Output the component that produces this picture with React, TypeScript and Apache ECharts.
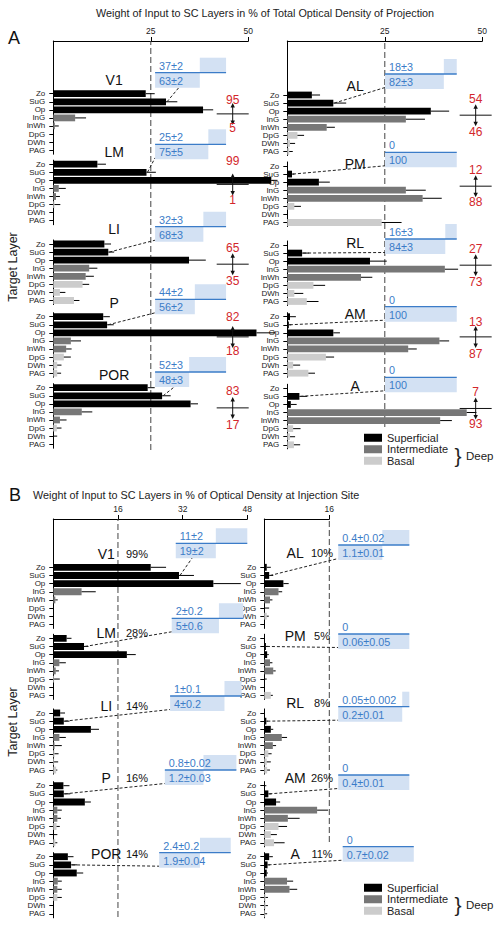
import React, { useEffect, useRef } from 'react';
import * as echarts from 'echarts';

const FONT = '"Liberation Sans", Arial, Helvetica, sans-serif';

// ---------------- data ----------------
const LAYERS = ['Zo', 'SuG', 'Op', 'InG', 'InWh', 'DpG', 'DWh', 'PAG'];
const LAYER_CLASS = ['Superficial', 'Superficial', 'Superficial', 'Intermediate', 'Intermediate', 'Basal', 'Basal', 'Basal'];
const CLASSES = ['Superficial', 'Intermediate', 'Basal'];

const TITLE_A = 'Weight of Input to SC Layers in % of Total Optical Density of Projection';
const TITLE_B = 'Weight of Input to SC Layers in % of Optical Density at Injection Site';
const Y_NAME = 'Target Layer';

const A_TICKS = [25, 50];
const B_LEFT_TICKS = [16, 32, 48];
const B_RIGHT_TICKS = [16];

const A_LEFT_AREAS = ['V1', 'LM', 'LI', 'P', 'POR'];
const A_LEFT_MEAN = [
  [23.7, 28.9, 38.4, 5.6, 0.4, 0, 0, 0],
  [11.3, 23.9, 55.9, 1.4, 0.7, 0.3, 0, 0],
  [13.1, 14.1, 34.8, 9.2, 8.3, 7.5, 1.7, 5.3],
  [12.8, 13.8, 52.1, 4.5, 3.3, 2.7, 1.0, 1.0],
  [24.2, 27.9, 35.2, 7.3, 1.7, 0.9, 0, 0],
];
const A_LEFT_ERR = [
  [2.3, 2.9, 2.6, 2.8, 1.0, 0, 0, 0],
  [2.2, 2.4, 1.6, 1.8, 1.0, 1.5, 0, 0],
  [1.7, 1.5, 4.3, 2.1, 2.1, 1.7, 1.4, 1.4],
  [1.7, 1.7, 4.8, 2.6, 1.4, 1.8, 1.1, 1.0],
  [1.8, 2.2, 1.9, 2.7, 1.7, 1.2, 1.0, 0],
];
const A_LEFT_SUPERFICIAL = [95, 99, 65, 82, 83];
const A_LEFT_DEEP = [5, 1, 35, 18, 17];
const A_LEFT_BOX_UPPER = ['37±2', '25±2', '32±3', '44±2', '52±3'];
const A_LEFT_BOX_LOWER = ['63±2', '75±5', '68±3', '56±2', '48±3'];
const A_LEFT_BOX_SPLIT = [63, 75, 68, 56, 48];

const A_RIGHT_AREAS = ['AL', 'PM', 'RL', 'AM', 'A'];
const A_RIGHT_MEAN = [
  [6.3, 11.8, 36.8, 30.4, 10.1, 2.6, 0.7, 0.5],
  [0, 1.2, 8.1, 30.4, 34.7, 1.8, 0, 24.2],
  [0, 3.8, 21.2, 40.4, 18.9, 6.7, 1.8, 5.0],
  [0.7, 0.4, 11.8, 39.0, 31.0, 9.9, 1.5, 5.4],
  [0, 3.1, 0.9, 46.0, 39.2, 1.5, 0.7, 1.7],
];
const A_RIGHT_ERR = [
  [2.1, 3.3, 4.7, 4.9, 2.1, 1.7, 1.3, 0.9],
  [0, 0.6, 2.8, 5.1, 4.9, 1.7, 0, 5.1],
  [0, 1.8, 4.3, 3.4, 2.9, 3.0, 2.3, 3.0],
  [1.5, 0.6, 1.7, 2.5, 2.2, 2.1, 1.8, 1.7],
  [0, 2.0, 1.5, 2.5, 3.0, 1.9, 1.3, 1.6],
];
const A_RIGHT_SUPERFICIAL = [54, 12, 27, 13, 7];
const A_RIGHT_DEEP = [46, 88, 73, 87, 93];
const A_RIGHT_BOX_UPPER = ['18±3', '0', '16±3', '0', '0'];
const A_RIGHT_BOX_LOWER = ['82±3', '100', '84±3', '100', '100'];
const A_RIGHT_BOX_SPLIT = [82, 100, 84, 100, 100];

const B_LEFT_MEAN = [
  [24.1, 31.1, 39.6, 7.0, 0.5, 0, 0, 0],
  [3.3, 7.6, 18.2, 1.5, 0.6, 0.2, 0, 0],
  [1.7, 2.6, 9.3, 1.5, 0.3, 0.3, 0.2, 0.7],
  [2.5, 2.6, 7.8, 1.0, 1.0, 0.8, 0, 0.5],
  [3.6, 4.4, 5.8, 1.1, 1.0, 1.0, 0, 0],
];
const B_LEFT_ERR = [
  [3.8, 3.7, 6.8, 3.5, 0.6, 0, 0, 0],
  [1.2, 1.1, 2.2, 1.6, 0.8, 1.4, 0, 0],
  [1.2, 1.4, 2.0, 1.6, 1.8, 1.0, 1.0, 0.3],
  [1.5, 1.6, 1.5, 1.1, 0.9, 0.8, 1.0, 0.5],
  [1.4, 1.5, 1.6, 1.0, 1.1, 1.1, 0, 0],
];
const B_LEFT_SHARE = ['99%', '28%', '14%', '16%', '14%'];
const B_LEFT_BOX_UPPER = ['11±2', '2±0.2', '1±0.1', '0.8±0.02', '2.4±0.2'];
const B_LEFT_BOX_LOWER = ['19±2', '5±0.6', '4±0.2', '1.2±0.03', '1.9±0.04'];
const B_LEFT_BOX_SPLIT = [56, 66, 76, 54, 57];

const B_RIGHT_MEAN = [
  [0.6, 1.2, 4.7, 3.5, 1.4, 0, 0.6, 0],
  [0, 0.4, 0.7, 1.4, 2.2, 0, 0, 1.6],
  [0, 0.5, 1.6, 4.3, 2.1, 1.0, 0.6, 0.7],
  [0, 1.0, 2.9, 13.0, 5.8, 3.5, 1.6, 2.4],
  [1.2, 0.8, 0.6, 5.6, 6.2, 0.3, 0.3, 0.2],
];
const B_RIGHT_ERR = [
  [1.0, 1.0, 1.3, 0.9, 0.6, 1.2, 0.5, 0],
  [0, 0.5, 0.4, 0.6, 0.6, 0.6, 0, 0.5],
  [0, 0.4, 0.6, 1.3, 0.8, 0.8, 1.0, 0.7],
  [0.5, 0.8, 1.0, 2.7, 2.9, 2.1, 1.5, 2.6],
  [0.9, 0.6, 0.3, 1.5, 1.9, 0.6, 0.6, 0.5],
];
const B_RIGHT_SHARE = ['10%', '5%', '8%', '26%', '11%'];
const B_RIGHT_BOX_UPPER = ['0.4±0.02', '0', '0.05±0.002', '0', '0'];
const B_RIGHT_BOX_LOWER = ['1.1±0.01', '0.06±0.05', '0.2±0.01', '0.4±0.01', '0.7±0.02'];
const B_RIGHT_BOX_SPLIT = [62, 100, 90, 100, 100];

// ---------------- styles / layout ----------------
const CLASS_COLORS = ['#000000', '#777777', '#cccccc'];
const BLUE = '#3b7cc8';
const BLUE_FILL = '#d3e1f3';
const RED = '#d3262b';

type PanelCfg = {
  x0: number; width: number; max: number; ticks: number[]; dash: number;
  axisTop: number; dashBottom: number; rowH: number; zo: number[];
  areas: string[]; mean: number[][]; err: number[][];
  labelX: number; labelDy: number[];
  share?: string[]; shareX?: number;
  red?: { sup: number[]; deep: number[]; x: number; upDy: number[]; downDy: number[] };
  box: { upper: string[]; lower: string[]; split: number[]; start: number[]; width: number; lineDy: number[]; half: number };
};

const PANELS: PanelCfg[] = [
  {
    x0: 53.3, width: 195, max: 50, ticks: A_TICKS, dash: 25, axisTop: 41, dashBottom: 450, rowH: 8.07,
    zo: [93.7, 164.2, 244, 316.7, 387.7],
    areas: A_LEFT_AREAS, mean: A_LEFT_MEAN, err: A_LEFT_ERR,
    labelX: 15.6, labelDy: [-14, -12.5, -15, -13.4, -12.7],
    red: { sup: A_LEFT_SUPERFICIAL, deep: A_LEFT_DEEP, x: 46.0, upDy: [-14, -23, -16, -20, -17], downDy: [14, 16, 17, 14, 17] },
    box: { upper: A_LEFT_BOX_UPPER, lower: A_LEFT_BOX_LOWER, split: A_LEFT_BOX_SPLIT, start: [26.1, 26.1, 26.1, 26.1, 26.1], width: 18.2, lineDy: [-21, -19.9, -17.3, -17.4, -15.7], half: 15 },
  },
  {
    x0: 287.3, width: 195, max: 50, ticks: A_TICKS, dash: 25, axisTop: 41, dashBottom: 427, rowH: 8.07,
    zo: [95, 166, 245, 316.7, 388.3],
    areas: A_RIGHT_AREAS, mean: A_RIGHT_MEAN, err: A_RIGHT_ERR,
    labelX: 17.4, labelDy: [-9, -2, -2.3, -2.7, -2.3],
    red: { sup: A_RIGHT_SUPERFICIAL, deep: A_RIGHT_DEEP, x: 48.3, upDy: [-16, -16, -16, -15, -16], downDy: [17, 16, 17, 17, 16] },
    box: { upper: A_RIGHT_BOX_UPPER, lower: A_RIGHT_BOX_LOWER, split: A_RIGHT_BOX_SPLIT, start: [25.05, 25.05, 25.05, 25.05, 25.05], width: 18.4, lineDy: [-21, -13.7, -6, -10, -11], half: 15 },
  },
  {
    x0: 53.3, width: 194, max: 48, ticks: B_LEFT_TICKS, dash: 16, axisTop: 519, dashBottom: 917, rowH: 8.15,
    zo: [567.3, 638.3, 713, 785.7, 856.7],
    areas: A_LEFT_AREAS, mean: B_LEFT_MEAN, err: B_LEFT_ERR,
    labelX: 13.1, labelDy: [-13.3, -5.6, -7, -7.4, -2.7],
    share: B_LEFT_SHARE, shareX: 20.7,
    box: { upper: B_LEFT_BOX_UPPER, lower: B_LEFT_BOX_LOWER, split: B_LEFT_BOX_SPLIT, start: [30.3, 29.3, 28.9, 27.6, 26.2], width: 17.7, lineDy: [-24, -20, -17, -15.7, -4], half: 15 },
  },
  {
    x0: 264.3, width: 65, max: 16, ticks: B_RIGHT_TICKS, dash: 16, axisTop: 519, dashBottom: 842, rowH: 8.15,
    zo: [567.3, 638.3, 713, 785.7, 856.7],
    areas: A_RIGHT_AREAS, mean: B_RIGHT_MEAN, err: B_RIGHT_ERR,
    labelX: 7.6, labelDy: [-14.6, -2.3, -9.7, -7.4, -2.7],
    share: B_RIGHT_SHARE, shareX: 14.2,
    box: { upper: B_RIGHT_BOX_UPPER, lower: B_RIGHT_BOX_LOWER, split: B_RIGHT_BOX_SPLIT, start: [18.2, 18.2, 18.2, 18.2, 19.3], width: 17.5, lineDy: [-22.3, -4.3, -6.3, -10.7, -10], half: 15 },
  },
];

function txt(text: string, x: number, y: number, fill: string, fontSize: number, align: string = 'center') {
  return {
    type: 'text',
    style: {
      text, x, y, fill, fontSize, fontFamily: FONT,
      align, verticalAlign: 'middle', textAlign: align, textVerticalAlign: 'middle',
    },
  };
}

function errRender(params: any, api: any) {
  const m = api.value(0);
  const idx = api.value(1);
  const e = api.value(2);
  if (!e) return null;
  const p0 = api.coord([m, idx]);
  const p1 = api.coord([m + e, idx]);
  return {
    type: 'line',
    shape: { x1: p0[0], y1: p0[1], x2: p1[0], y2: p1[1] },
    style: { stroke: '#000', lineWidth: 1 },
  };
}

function annotRender(cfg: PanelCfg, g: number) {
  return (params: any, api: any) => {
    const X = (u: number) => api.coord([u, 0])[0];
    const zoY = api.coord([0, 0])[1];
    const row = api.coord([0, 1])[1] - zoY;
    const children: any[] = [];
    const b = cfg.box;
    const lineY = zoY + b.lineDy[g];
    const xs = X(b.start[g]);
    const xe = X(b.start[g] + b.width);
    const xm = xs + ((xe - xs) * b.split[g]) / 100;
    // connector from SuG bar end to the box
    const sx = X(cfg.mean[g][1]);
    const sy = zoY + row;
    const ex = sx > xs - 5 ? sx + 14 : xs;
    const ey = lineY + b.half - 1.5;
    children.push({ type: 'line', shape: { x1: sx + 1, y1: sy, x2: ex, y2: ey }, style: { stroke: '#222', lineWidth: 1, lineDash: [3, 2] } });
    if (xe - xm > 0.5) {
      children.push({ type: 'rect', shape: { x: xm, y: lineY - b.half, width: xe - xm, height: b.half }, style: { fill: BLUE_FILL } });
    }
    children.push({ type: 'rect', shape: { x: xs, y: lineY, width: xm - xs, height: b.half }, style: { fill: BLUE_FILL } });
    children.push({ type: 'line', shape: { x1: xs, y1: lineY, x2: xe, y2: lineY }, style: { stroke: BLUE, lineWidth: 1.3 } });
    children.push(txt(b.upper[g], xs + 4, lineY - b.half / 2 + 0.5, BLUE, 10.8, 'left'));
    children.push(txt(b.lower[g], xs + 4, lineY + b.half / 2 + 0.5, BLUE, 10.8, 'left'));
    // area label
    children.push(txt(cfg.areas[g], X(cfg.labelX), zoY + cfg.labelDy[g], '#111', 14));
    if (cfg.share && cfg.shareX !== undefined) {
      children.push(txt(cfg.share[g], X(cfg.shareX), zoY + cfg.labelDy[g], '#111', 11));
    }
    if (cfg.red) {
      const r = cfg.red;
      const xc = X(r.x);
      const cy = zoY + 2.5 * row;
      children.push({ type: 'line', shape: { x1: xc - 16, y1: cy, x2: xc + 16, y2: cy }, style: { stroke: '#111', lineWidth: 1 } });
      children.push({ type: 'line', shape: { x1: xc, y1: cy - 8, x2: xc, y2: cy + 8 }, style: { stroke: '#111', lineWidth: 1 } });
      children.push({ type: 'polygon', shape: { points: [[xc, cy - 11], [xc - 2.2, cy - 6.5], [xc + 2.2, cy - 6.5]] }, style: { fill: '#111' } });
      children.push({ type: 'polygon', shape: { points: [[xc, cy + 11], [xc - 2.2, cy + 6.5], [xc + 2.2, cy + 6.5]] }, style: { fill: '#111' } });
      children.push(txt(String(r.sup[g]), xc, cy + r.upDy[g], RED, 12));
      children.push(txt(String(r.deep[g]), xc, cy + r.downDy[g], RED, 12));
    }
    return { type: 'group', children };
  };
}

function buildOption() {
  const grid: any[] = [];
  const xAxis: any[] = [];
  const yAxis: any[] = [];
  const series: any[] = [];
  const axisLineStyle = { color: '#000', width: 1 };
  const addGrid = (g: any, xa: any, ya: any) => {
    const idx = grid.length;
    grid.push({ ...g, containLabel: false, outerBoundsMode: 'none' });
    xAxis.push({ ...xa, gridIndex: idx });
    yAxis.push({ ...ya, gridIndex: idx });
    return idx;
  };

  PANELS.forEach((cfg) => {
    const baseX = { type: 'value', min: 0, max: cfg.max };
    const firstTop = cfg.zo[0] - cfg.rowH / 2;
    // frame: top axis + connecting y axis line
    addGrid(
      { left: cfg.x0, width: cfg.width, top: cfg.axisTop, height: firstTop - cfg.axisTop },
      {
        ...baseX, position: 'top', interval: cfg.ticks[0],
        axisLine: { show: true, onZero: false, lineStyle: axisLineStyle },
        axisTick: { show: true, customValues: cfg.ticks, length: 4, lineStyle: axisLineStyle },
        axisLabel: { show: true, customValues: cfg.ticks, fontSize: 8.5, color: '#222', margin: 6, fontFamily: FONT, formatter: (v: number) => (v === 0 ? '' : String(v)) },
        splitLine: { show: false },
      },
      { type: 'value', min: 0, max: 1, axisLine: { show: true, onZero: false, lineStyle: axisLineStyle }, axisTick: { show: false }, axisLabel: { show: false }, splitLine: { show: false } },
    );
    // dashed reference line
    const di = addGrid(
      { left: cfg.x0, width: cfg.width, top: cfg.axisTop, height: cfg.dashBottom - cfg.axisTop },
      { ...baseX, show: false },
      { type: 'value', min: 0, max: 1, show: false },
    );
    series.push({
      type: 'line', xAxisIndex: di, yAxisIndex: di, data: [[cfg.dash, 0], [cfg.dash, 1]],
      symbol: 'none', silent: true, z: 1,
      lineStyle: { color: '#444', width: 1, type: [6, 3] },
    });
    // area groups
    cfg.areas.forEach((area, g) => {
      const gi = addGrid(
        { left: cfg.x0, width: cfg.width, top: cfg.zo[g] - cfg.rowH / 2, height: cfg.rowH * 8 },
        { ...baseX, show: false },
        {
          type: 'category', data: LAYERS, inverse: true,
          axisLine: { show: true, lineStyle: axisLineStyle },
          axisTick: { show: true, alignWithLabel: true, interval: 0, length: 4, lineStyle: axisLineStyle },
          axisLabel: { show: true, interval: 0, fontSize: 8, lineHeight: 7.5, color: '#222', margin: 8, fontFamily: FONT },
          splitLine: { show: false },
        },
      );
      CLASSES.forEach((c, ci) => {
        series.push({
          type: 'bar', name: c, xAxisIndex: gi, yAxisIndex: gi,
          barWidth: cfg.rowH - 1.3, barGap: '-100%', clip: false, silent: true, z: 2,
          itemStyle: { color: CLASS_COLORS[ci] },
          data: LAYERS.map((_, i) => (LAYER_CLASS[i] === c ? cfg.mean[g][i] : '-')),
        });
      });
      series.push({
        type: 'custom', xAxisIndex: gi, yAxisIndex: gi, clip: false, silent: true, z: 3,
        encode: { x: 0, y: 1 },
        data: cfg.mean[g].map((m, i) => [m, i, cfg.err[g][i]]),
        renderItem: errRender,
      });
      series.push({
        type: 'custom', xAxisIndex: gi, yAxisIndex: gi, clip: false, silent: true, z: 4,
        encode: { x: 0, y: 1 },
        data: [[0, 0]],
        renderItem: annotRender(cfg, g),
      });
    });
  });

  const legendBase = {
    data: CLASSES, orient: 'vertical', left: 364, itemWidth: 18, itemHeight: 8, itemGap: 0,
    icon: 'rect', selectedMode: false, padding: 0,
    textStyle: { fontSize: 11, color: '#222', fontFamily: FONT, lineHeight: 11.5 },
  };

  const graphic: any[] = [
    { type: 'text', x: 14, y: 37.5, style: { text: 'A', fontSize: 18, fontFamily: FONT, fill: '#111', align: 'center', verticalAlign: 'middle', textAlign: 'center', textVerticalAlign: 'middle' } },
    { type: 'text', x: 15, y: 495, style: { text: 'B', fontSize: 18, fontFamily: FONT, fill: '#111', align: 'center', verticalAlign: 'middle', textAlign: 'center', textVerticalAlign: 'middle' } },
    { type: 'text', x: 13, y: 267, rotation: Math.PI / 2, style: { text: Y_NAME, fontSize: 12.5, fontFamily: FONT, fill: '#222', align: 'center', verticalAlign: 'middle', textAlign: 'center', textVerticalAlign: 'middle' } },
    { type: 'text', x: 13, y: 722, rotation: Math.PI / 2, style: { text: Y_NAME, fontSize: 12.5, fontFamily: FONT, fill: '#222', align: 'center', verticalAlign: 'middle', textAlign: 'center', textVerticalAlign: 'middle' } },
  ];
  [455, 904].forEach((y) => {
    graphic.push({ type: 'text', x: 458, y, style: { text: '}', fontSize: 21, fontFamily: FONT, fill: '#222', align: 'center', verticalAlign: 'middle', textAlign: 'center', textVerticalAlign: 'middle' } });
    graphic.push({ type: 'text', x: 466, y: y + 0.5, style: { text: 'Deep', fontSize: 11.5, fontFamily: FONT, fill: '#222', align: 'left', verticalAlign: 'middle', textAlign: 'left', textVerticalAlign: 'middle' } });
  });

  return {
    animation: false,
    backgroundColor: '#ffffff',
    textStyle: { fontFamily: FONT },
    title: [
      { text: TITLE_A, left: 96, top: 7, padding: 0, textStyle: { fontSize: 10.8, fontWeight: 'normal', color: '#222', fontFamily: FONT } },
      { text: TITLE_B, left: 33, top: 489, padding: 0, textStyle: { fontSize: 10.8, fontWeight: 'normal', color: '#222', fontFamily: FONT } },
    ],
    legend: [
      { ...legendBase, top: 432 },
      { ...legendBase, top: 882 },
    ],
    grid, xAxis, yAxis, series, graphic,
  };
}

export default function App() {
  const ref = useRef<HTMLDivElement>(null);
  useEffect(() => {
    if (!ref.current) return;
    const chart = echarts.init(ref.current, undefined, { renderer: 'svg' });
    chart.setOption(buildOption() as any);
    return () => chart.dispose();
  }, []);
  return <div ref={ref} style={{ position: 'absolute', left: 0, top: 0, width: 502, height: 928 }} />;
}
